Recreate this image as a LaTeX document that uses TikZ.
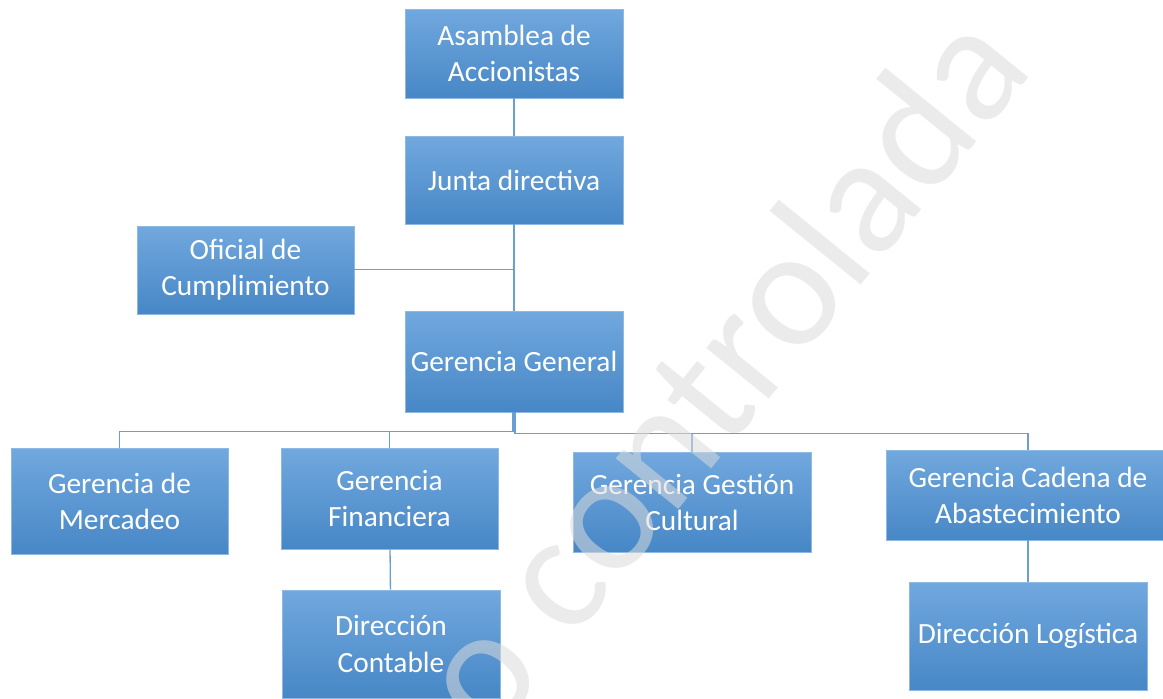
\documentclass[tikz,border=0pt]{standalone}
\usepackage{fontspec}
\setmainfont{Carlito}
\usepackage{xcolor}
\usetikzlibrary{positioning,calc}
\definecolor{boxtop}{HTML}{71A8DE}
\definecolor{boxbot}{HTML}{4787C6}
\definecolor{boxedge}{HTML}{8DB9E4}
\definecolor{linkblue}{HTML}{6A9FD6}
\tikzset{
  unit/.style={draw=boxedge, line width=0.5pt, top color=boxtop, bottom color=boxbot, text=white, align=center, minimum width=4.36cm, minimum height=1.78cm, inner sep=0pt, font=\fontsize{16.7}{20.5}\selectfont},
  wideunit/.style={unit, minimum width=4.76cm},
  link/.style={draw=linkblue, line width=0.75pt},
  stamp/.style={text=black!14, opacity=0.55, font=\fontsize{96}{96}\selectfont, rotate=51, inner sep=0pt}
}

\begin{document}
\begin{tikzpicture}
  \useasboundingbox (0,0) rectangle (23.26,-13.96);
  \clip (0,0) rectangle (23.26,-13.96);
  % top of the chart
  \node[unit] (asamblea) at (10.28,-1.07) {Asamblea de\\Accionistas};
  \node[unit, minimum height=1.76cm] (junta) at (10.28,-3.60) {Junta directiva};
  \node[unit, minimum width=4.34cm, minimum height=1.76cm] (oficial) at (4.91,-5.40) {Oficial de\\Cumplimiento};
  \node[unit, minimum height=2.02cm] (general) at (10.28,-7.23) {Gerencia General};
  % gerencias
  \node[unit, minimum width=4.34cm, minimum height=2.12cm] (mercadeo) at (2.39,-10.02) {Gerencia de\\Mercadeo};
  \node[unit, minimum width=4.34cm, minimum height=2.02cm] (financiera) at (7.79,-9.97) {Gerencia\\Financiera};
  \node[wideunit, minimum height=2.0cm] (gestion) at (13.84,-10.04) {Gerencia Gestión\\Cultural};
  \node[unit, minimum width=5.68cm, minimum height=1.8cm] (cadena) at (20.56,-9.90) {Gerencia Cadena de\\Abastecimiento};
  % direcciones
  \node[unit, minimum height=2.16cm] (contable) at (7.82,-12.88) {Dirección\\Contable};
  \node[wideunit, minimum height=2.16cm] (logistica) at (20.56,-12.72) {Dirección Logística};

  \coordinate (cumple) at ($(junta.south)!0.52!(general.north)$);
  \draw[link] (asamblea) -- (junta);
  \draw[link] (junta) -- (general);
  \draw[link] (oficial.east |- cumple) -- (cumple);
  \draw[link] ([xshift=-0.5pt]general.south) |- ++(0,-0.38) -| (mercadeo.north);
  \draw[link] ([xshift=-0.5pt]general.south) ++(0,-0.38) -| (financiera.north);
  \draw[link] ([xshift=0.5pt]general.south) |- ++(0,-0.42) -| (gestion.north);
  \draw[link] ([xshift=0.5pt]general.south) ++(0,-0.42) -| (cadena.north);
  \draw[link] (financiera) -- (contable);
  \draw[link] (cadena) -- (logistica);

  \node[stamp] (marca) at (14.37,-7.38) {o controlada};
\end{tikzpicture}
\end{document}
